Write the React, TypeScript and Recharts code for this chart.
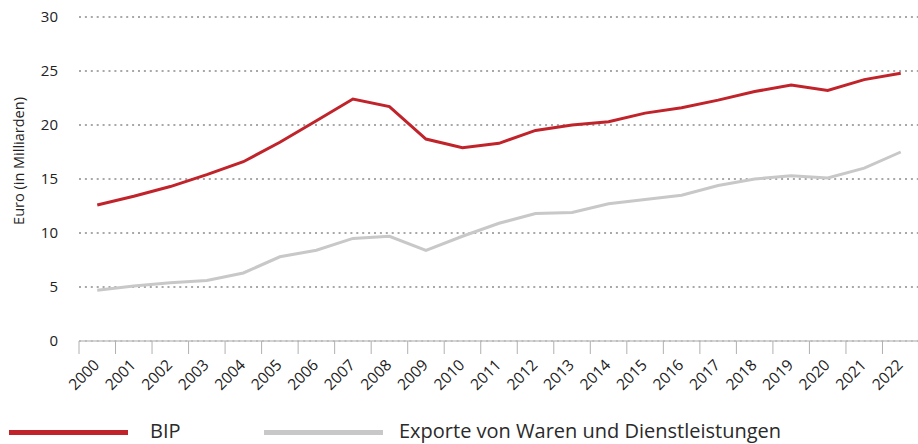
import React from 'react';
import { LineChart, Line, XAxis, YAxis, CartesianGrid, Legend, Label } from 'recharts';

const years = ['2000', '2001', '2002', '2003', '2004', '2005', '2006', '2007', '2008', '2009', '2010', '2011', '2012', '2013', '2014', '2015', '2016', '2017', '2018', '2019', '2020', '2021', '2022'];
const bip = [12.6, 13.4, 14.3, 15.4, 16.6, 18.4, 20.4, 22.4, 21.7, 18.7, 17.9, 18.3, 19.5, 20.0, 20.3, 21.1, 21.6, 22.3, 23.1, 23.7, 23.2, 24.2, 24.8];
const exporte = [4.7, 5.1, 5.4, 5.6, 6.3, 7.8, 8.4, 9.5, 9.7, 8.4, 9.7, 10.9, 11.8, 11.9, 12.7, 13.1, 13.5, 14.4, 15.0, 15.3, 15.1, 16.0, 17.5];
const yTicks = [0, 5, 10, 15, 20, 25, 30];
const seriesNames = ['BIP', 'Exporte von Waren und Dienstleistungen'];
const yLabel = 'Euro (in Milliarden)';

const RED = '#c1232b';
const GREY = '#c8c8c8';
const FONT = '"Open Sans", sans-serif';

const data = years.map((y, i) => ({ idx: i, year: y, bip: bip[i], exporte: exporte[i] }));
const xTicks = years.map((_, i) => i);

const CHART_W = 920;
const CHART_H = 444;
const M = { top: 17, right: 1, bottom: 0, left: 0 };
const Y_W = 79;
const PLOT_W = CHART_W - M.left - M.right - Y_W;
const HALF = PLOT_W / years.length / 2;

function XTick(props: any) {
  const { x, y, payload } = props;
  const i = payload.value as number;
  const ax = x + 3;
  const ay = y + 25;
  return (
    <g>
      <line x1={x - HALF} y1={y} x2={x - HALF} y2={y + 13} stroke="#b0b0b0" strokeWidth={1} />
      {i === years.length - 1 && (
        <line x1={x + HALF} y1={y} x2={x + HALF} y2={y + 13} stroke="#b0b0b0" strokeWidth={1} />
      )}
      <text x={ax} y={ay} transform={`rotate(-45 ${ax} ${ay})`} textAnchor="end" fontSize={15.5} fontFamily={FONT} fill="#222">
        {years[i]}
      </text>
    </g>
  );
}

function LegendContent() {
  const colors = [RED, GREY];
  const lineLeft = [9, 264];
  const textLeft = [150, 399];
  return (
    <div style={{ position: 'relative', width: CHART_W, height: 24, fontFamily: FONT }}>
      {seriesNames.map((n, k) => (
        <React.Fragment key={n}>
          <div style={{ position: 'absolute', left: lineLeft[k], top: 9.5, width: 119, height: 5, background: colors[k] }} />
          <div style={{ position: 'absolute', left: textLeft[k], top: 0, height: 24, lineHeight: '22px', fontSize: 20, color: '#2a2a2a', whiteSpace: 'nowrap' }}>{n}</div>
        </React.Fragment>
      ))}
    </div>
  );
}

export default function App() {
  return (
    <div style={{ position: 'absolute', left: 0, top: 0, width: 918, height: 444, overflow: 'hidden', background: '#fff' }}>
      <LineChart width={CHART_W} height={CHART_H} data={data} margin={M}>
        <CartesianGrid horizontal vertical={false} stroke="#a8a8a8" strokeWidth={2} strokeDasharray="2 3.9" />
        <XAxis
          dataKey="idx"
          type="number"
          domain={[-0.5, years.length - 0.5]}
          allowDataOverflow
          ticks={xTicks}
          interval={0}
          tickLine={false}
          tickSize={0}
          tickMargin={0}
          axisLine={{ stroke: '#c4c4c4', strokeWidth: 1.5 }}
          tick={<XTick />}
          height={79}
        />
        <YAxis
          type="number"
          domain={[0, 30]}
          ticks={yTicks}
          width={Y_W}
          axisLine={false}
          tickLine={false}
          tickSize={0}
          tickMargin={21}
          tick={{ fontSize: 15, fill: '#222', fontFamily: FONT }}
        >
          <Label
            content={() => (
              <text x={18} y={161} transform="rotate(-90 18 161)" textAnchor="middle" dominantBaseline="central" fontSize={14.5} fontFamily={FONT} fill="#222">
                {yLabel}
              </text>
            )}
          />
        </YAxis>
        <Legend verticalAlign="bottom" align="left" height={24} wrapperStyle={{ left: 0, width: CHART_W }} content={<LegendContent />} />
        <Line type="linear" dataKey="exporte" name={seriesNames[1]} stroke={GREY} strokeWidth={3} dot={false} isAnimationActive={false} />
        <Line type="linear" dataKey="bip" name={seriesNames[0]} stroke={RED} strokeWidth={3} dot={false} isAnimationActive={false} />
      </LineChart>
    </div>
  );
}
